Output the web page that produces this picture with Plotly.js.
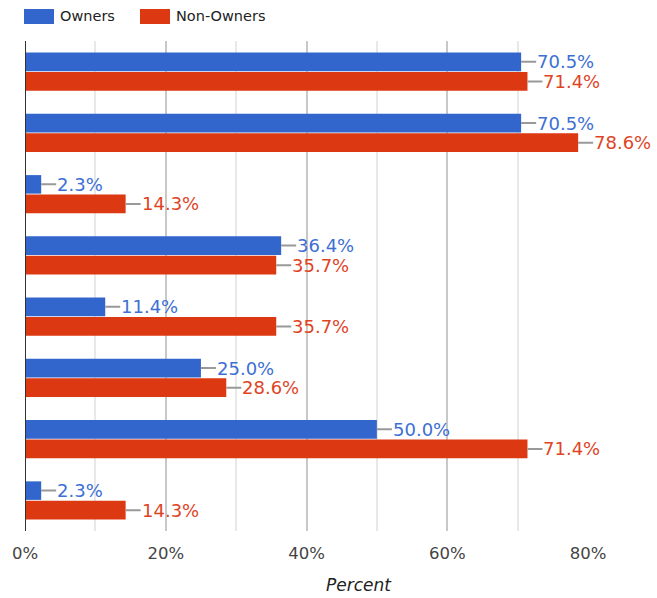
<!DOCTYPE html>
<html><head><meta charset="utf-8">
<script src="https://cdn.plot.ly/plotly-3.0.1.min.js"></script>
<style>html,body{margin:0;padding:0;background:#fff;}#chart{width:657px;height:598px;}</style>
</head><body><div id="chart"></div>
<script>
var categories = ["Item 1","Item 2","Item 3","Item 4","Item 5","Item 6","Item 7","Item 8"];
var owners = [70.5, 70.5, 2.3, 36.4, 11.4, 25.0, 50.0, 2.3];
var nonOwners = [71.4, 78.6, 14.3, 35.7, 35.7, 28.6, 71.4, 14.3];
var seriesNames = ["Owners", "Non-Owners"];
var tickVals = [0, 20, 40, 60, 80];
var tickText = ["0%", "20%", "40%", "60%", "80%"];
var axisTitle = "Percent";

var BLUE = "#3366cc", RED = "#dc3912";
var BLUE_T = "#3d6fd4", RED_T = "#e0441f";
var W = 657, H = 598;
var mL = 25, mR = 69, mT = 41, mB = 67;
var bargap = 0.363;
var off = (1 - bargap) / 4;

function px2paperX(px){ return (px - mL) / (W - mL - mR); }
function px2paperY(py){ return 1 - (py - mT) / (H - mT - mB); }

var traces = [
  {type:"bar", orientation:"h", name:seriesNames[0], y:categories, x:owners, marker:{color:BLUE}, hoverinfo:"x"},
  {type:"bar", orientation:"h", name:seriesNames[1], y:categories, x:nonOwners, marker:{color:RED}, hoverinfo:"x"}
];

var annotations = [];
function addLabels(vals, sign, color){
  vals.forEach(function(v, i){
    annotations.push({
      x: v, y: i + sign*off, xref:"x", yref:"y",
      text: v.toFixed(1) + "%",
      showarrow:true, arrowhead:0, arrowwidth:2, arrowcolor:"#999999",
      ax:15, ay:0, xanchor:"left", yanchor:"middle", standoff:0, borderpad:0,
      font:{family:"DejaVu Sans", size:18, color:color}
    });
  });
}
addLabels(owners, -1, BLUE_T);
addLabels(nonOwners, 1, RED_T);

// legend
var shapes = [];
var legendItems = [
  {x0:24, x1:54, tx:58, color:BLUE, text:seriesNames[0]},
  {x0:140, x1:170, tx:174, color:RED, text:seriesNames[1]}
];
legendItems.forEach(function(it){
  shapes.push({type:"rect", xref:"paper", yref:"paper",
    x0:px2paperX(it.x0), x1:px2paperX(it.x1), y0:px2paperY(24), y1:px2paperY(9),
    fillcolor:it.color, line:{width:0}});
  annotations.push({xref:"paper", yref:"paper", x:px2paperX(it.tx), y:px2paperY(16.5),
    xanchor:"left", yanchor:"middle", showarrow:false, text:it.text,
    font:{family:"DejaVu Sans", size:14.5, color:"#222222"}});
});

// axis title
annotations.push({xref:"paper", yref:"paper", x:px2paperX(359), y:px2paperY(585),
  xanchor:"center", yanchor:"middle", showarrow:false, text:"<i>" + axisTitle + "</i>",
  font:{family:"DejaVu Sans", size:17, color:"#222222"}});

var layout = {
  width:W, height:H,
  margin:{l:mL, r:mR, t:mT, b:mB, pad:0},
  paper_bgcolor:"#ffffff", plot_bgcolor:"#ffffff",
  barmode:"group", bargap:bargap, bargroupgap:0.05,
  showlegend:false,
  font:{family:"DejaVu Sans", color:"#444444"},
  xaxis:{
    range:[0, 80], tickvals:tickVals, ticktext:tickText,
    showgrid:true, gridcolor:"#c8c8c8", gridwidth:2,
    minor:{dtick:10, showgrid:true, gridcolor:"#e8e8e8", gridwidth:2},
    zeroline:false, showline:false, ticks:"",
    tickfont:{family:"DejaVu Sans", size:16.5, color:"#444444"},
    ticklabelstandoff:10
  },
  yaxis:{
    type:"category", autorange:"reversed", showticklabels:false, ticks:"",
    showgrid:false, zeroline:false, showline:false
  },
  shapes:shapes.concat([{type:"line", xref:"x", yref:"paper", x0:0, x1:0, y0:0, y1:1, line:{color:"#333333", width:2}}]),
  annotations:annotations
};

Plotly.newPlot("chart", traces, layout, {displayModeBar:false, staticPlot:true});
</script></body></html>
